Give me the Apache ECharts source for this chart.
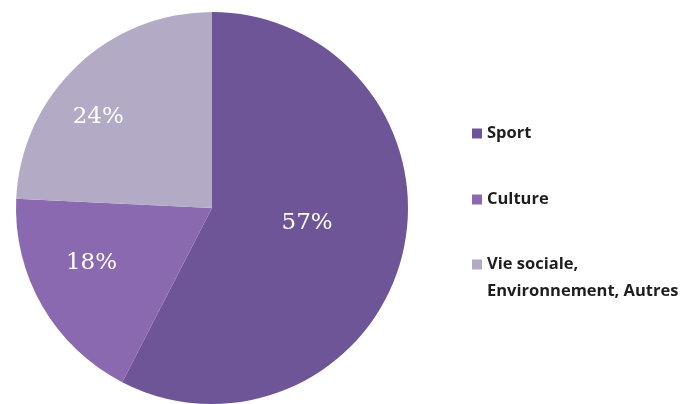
<!DOCTYPE html>
<html>
<head>
<meta charset="utf-8">
<script src="https://cdn.jsdelivr.net/npm/echarts@6/dist/echarts.min.js"></script>
<style>
html,body{margin:0;padding:0;background:#fff;}
#chart{width:687px;height:404px;}
</style>
</head>
<body>
<div id="chart"></div>
<script>
var categories = ['Sport', 'Culture', 'Vie sociale,\nEnvironnement, Autres'];
var values = [57, 18, 24];
var colors = ['#6e5598', '#8a69b0', '#b3aac6'];

var chart = echarts.init(document.getElementById('chart'), null, {renderer: 'canvas'});

var labelShift = [[-3, -9], [-33, 5], [-44, -18]];
var legendTops = [120, 186, 251];
var legendText = {fontFamily: 'Open Sans', fontWeight: 'bold', fontSize: 16.5, color: '#1e1e1e', lineHeight: 27};

var legends = categories.map(function (name, i) {
  var twoLine = name.indexOf('\n') >= 0;
  return {
    orient: 'vertical',
    left: 472,
    top: legendTops[i],
    padding: 0,
    itemWidth: 10,
    itemHeight: twoLine ? 37 : 10,
    itemGap: 0,
    icon: twoLine ? 'path://M0,0L10,0L10,10L0,10Z M0,37L10,37' : 'rect',
    selectedMode: false,
    textStyle: legendText,
    data: [name]
  };
});

chart.setOption({
  animation: false,
  color: colors,
  legend: legends,
  series: [{
    type: 'pie',
    center: [212, 208],
    radius: [0, 196],
    startAngle: 90,
    clockwise: true,
    silent: true,
    itemStyle: {borderWidth: 0},
    label: {
      show: true,
      position: 'inside',
      formatter: '{c}%',
      fontFamily: 'DejaVu Serif',
      fontSize: 23,
      color: '#ffffff'
    },
    labelLine: {show: false},
    labelLayout: function (p) {
      var s = labelShift[p.dataIndex];
      return {dx: s[0], dy: s[1]};
    },
    data: categories.map(function (c, i) { return {name: c, value: values[i]}; })
  }]
});
</script>
</body>
</html>
